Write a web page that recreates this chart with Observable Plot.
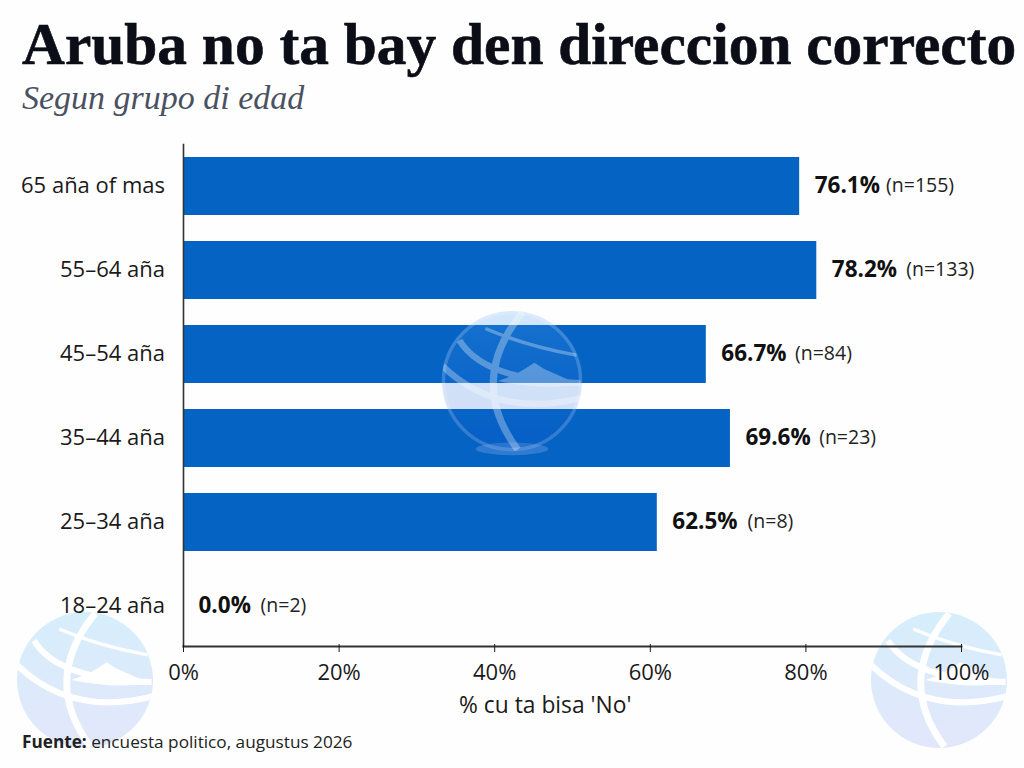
<!DOCTYPE html>
<html><head><meta charset="utf-8">
<script src="https://cdn.jsdelivr.net/npm/d3@7"></script>
<script src="https://cdn.jsdelivr.net/npm/@observablehq/plot@0.6"></script>
<style>
html,body{margin:0;padding:0;background:#fefefe;width:1024px;height:768px;overflow:hidden}
#title{position:absolute;left:22px;top:10px;font:bold 59.4px "Liberation Serif",serif;color:#0b0d17;white-space:nowrap;-webkit-text-stroke:0.6px #0b0d17}
#subtitle{position:absolute;left:22px;top:79px;font:italic 34px "Liberation Serif",serif;color:#4a5162;white-space:nowrap}
#chart{position:absolute;left:0;top:130px}
#source{position:absolute;left:22px;top:730px;font:17.2px "Open Sans",sans-serif;color:#222;white-space:nowrap}
#source b{font-weight:700}
.wm{position:absolute;left:0;top:0;pointer-events:none}
</style></head><body>
<svg id="wmBack" class="wm" width="1024" height="768"></svg>
<div id="title">Aruba no ta bay den direccion correcto</div>
<div id="subtitle">Segun grupo di edad</div>
<div id="chart"></div>
<div id="source"><b>Fuente:</b> encuesta politico, augustus 2026</div>
<svg id="wmFront" class="wm" width="1024" height="768"></svg>
<script>
const groups = ["65 aña of mas","55–64 aña","45–54 aña","35–44 aña","25–34 aña","18–24 aña"];
const barLengths = [79.2,81.4,67.2,70.3,60.9,0];
const pctLabels = ["76.1%","78.2%","66.7%","69.6%","62.5%","0.0%"];
const nLabels = ["(n=155)","(n=133)","(n=84)","(n=23)","(n=8)","(n=2)"];
const nLabelAt = [90.3,92.9,78.6,81.7,72.5,9.9];
const xTicks = [0,20,40,60,80,100];
const rows = groups.map((g,i)=>({g,v:barLengths[i],p:pctLabels[i],n:nLabels[i],at:nLabelAt[i]}));
const font = '"Open Sans",sans-serif';
const plot = Plot.plot({
  width:1024,height:595,
  marginLeft:183,marginRight:63,marginTop:14,marginBottom:79,
  style:{fontFamily:font,background:"transparent",overflow:"visible"},
  x:{domain:[0,100],label:null},
  y:{domain:groups,range:[14,518],paddingInner:0.31,paddingOuter:0.155,label:null},
  marks:[
    Plot.barX(rows,{x:"v",y:"g",fill:"#0563c4"}),
    Plot.frame({anchor:"left",stroke:"#333",strokeWidth:1.6}),
    Plot.frame({anchor:"bottom",stroke:"#333",strokeWidth:2}),
    Plot.axisY({tickSize:0,tickPadding:18.5,dy:-1,fontSize:22,label:null,color:"#1a1a1a"}),
    Plot.axisX({ticks:xTicks,tickFormat:d=>d+"%",tickSize:8,tickPadding:12,dy:-2,fontSize:22,label:null,color:"#1a1a1a"}),
    Plot.text(["% cu ta bisa 'No'"],{x:[46.5],frameAnchor:"bottom",dy:66,fontSize:22.8,fill:"#1a1a1a"}),
    Plot.text(rows,{x:"v",y:"g",text:"p",textAnchor:"start",dx:15,dy:-0.5,fontSize:22.5,fontWeight:700,fill:"#111"}),
    Plot.text(rows,{x:"at",y:"g",text:"n",textAnchor:"start",dy:-0.5,fontSize:19.5,fill:"#222"})
  ]
});
document.getElementById("chart").append(plot);

// Decorative watermark globes (not data)
const curves = [
  ["M0.15,-0.98 Q-0.65,0 0.08,0.98",0.1],
  ["M-0.38,-0.75 Q0.2,-0.5 0.92,-0.37",0.05],
  ["M-0.75,-0.58 Q-0.4,0 0.98,0.03",0.09],
  ["M-1,-0.22 Q-0.2,0.55 1,0.24",0.09]
];
const ridge = "M-0.2,0.0 L0.02,-0.08 L0.18,-0.17 L0.32,-0.26 L0.46,-0.17 L0.62,-0.1 L0.8,-0.02 L0.98,0.05 Q0.4,0.13 -0.2,0Z";
function globe(svgId,id,cx,cy,r,opts){
  const svg = d3.select(svgId);
  const defs = svg.append("defs");
  const grad = defs.append("linearGradient").attr("id",id).attr("x1",0).attr("y1",0).attr("x2",0).attr("y2",1);
  grad.append("stop").attr("offset","0").attr("stop-color",opts.top).attr("stop-opacity",opts.topAlpha);
  grad.append("stop").attr("offset","1").attr("stop-color",opts.bottom).attr("stop-opacity",opts.bottomAlpha);
  defs.append("clipPath").attr("id",id+"c").append("circle").attr("r",1);
  const g = svg.append("g").attr("transform",`translate(${cx},${cy}) scale(${r})`);
  if(opts.shadow) g.append("ellipse").attr("cy",0.97).attr("rx",0.52).attr("ry",0.09).attr("fill","#8db4ee").attr("opacity",0.3);
  g.append("circle").attr("r",1).attr("fill",`url(#${id})`);
  if(opts.ring) g.append("circle").attr("r",0.98).attr("fill","none").attr("stroke","#fff").attr("stroke-opacity",opts.ring).attr("stroke-width",0.05);
  const c = g.append("g").attr("clip-path",`url(#${id}c)`).attr("opacity",opts.lineAlpha);
  c.append("path").attr("d",ridge).attr("fill","#fff");
  curves.forEach(([d,w])=>c.append("path").attr("d",d).attr("fill","none").attr("stroke","#fff").attr("stroke-width",w));
}
const pale = {top:"#d6eefb",bottom:"#e2e7fa",topAlpha:1,bottomAlpha:1,lineAlpha:1};
globe("#wmBack","gl",85,680,68,pale);
globe("#wmBack","gr",939,680,68,pale);
globe("#wmFront","gc",512,381,70,{top:"#4da3f0",bottom:"#0a4fd0",topAlpha:0.25,bottomAlpha:0.18,lineAlpha:0.3,ring:0.18,shadow:true});
</script></body></html>
